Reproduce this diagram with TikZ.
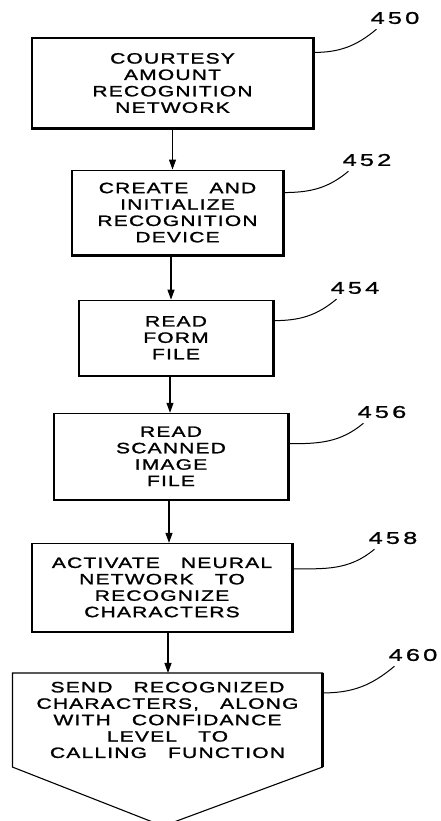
\documentclass[tikz,border=0pt]{standalone}
\usepackage{fontspec}
\usepackage{tikz}
\usetikzlibrary{positioning}
\usetikzlibrary{arrows.meta}

\newfontfamily\stepfont[FakeStretch=1.4,LetterSpace=8,WordSpace=3,FakeBold=1.5]{Liberation Sans}
\newfontfamily\numfont[FakeStretch=1.5,LetterSpace=18,FakeBold=1.2]{Liberation Sans}

\begin{document}
\begin{tikzpicture}[x=1pt, y=-1pt,
        procbox/.style={draw, line width=1.1pt, align=center, inner sep=0pt, font=\stepfont\fontsize{15}{16.4}\selectfont},
        heavyedge/.style={line width=2.4pt},
        flowarrow/.style={line width=1.1pt, -{Triangle[length=10pt, width=7pt]}},
        reflabel/.style={inner sep=0pt, font=\numfont\fontsize{17}{17}\selectfont},
        leader/.style={line width=1pt}]
        \useasboundingbox (0,0) rectangle (440,821);

        \node[procbox, minimum width=281pt, minimum height=90pt] (box450) at (172.5, 83) {COURTESY\\AMOUNT\\RECOGNITION\\NETWORK};
        \node[procbox, minimum width=211pt, minimum height=85pt] (box452) [below = 41pt of box450, xshift=5pt] {CREATE AND\\INITIALIZE\\RECOGNITION\\DEVICE};
        \node[procbox, minimum width=194pt, minimum height=75pt] (box454) [below = 44pt of box452, xshift=-1.5pt] {READ\\FORM\\FILE};
        \node[procbox, minimum width=234pt, minimum height=86pt] (box456) [below = 37pt of box454, xshift=-5pt] {READ\\SCANNED\\IMAGE\\FILE};
        \node[procbox, minimum width=260pt, minimum height=88pt] (box458) [below = 43pt of box456, xshift=-9pt] {ACTIVATE NEURAL\\NETWORK TO\\RECOGNIZE\\CHARACTERS};
        \node[procbox, draw=none, minimum width=309pt, minimum height=93pt] (box460) [below = 41pt of box458, xshift=5.5pt] {SEND RECOGNIZED\\CHARACTERS, ALONG\\WITH CONFIDANCE\\LEVEL TO\\CALLING FUNCTION};

        % pointed bottom of the last step
        \draw[line width=1.1pt] (box460.south west) -- (box460.north west) -- (box460.north east) -- (box460.south east) -- ([xshift=-4.5pt, yshift=-59pt]box460.south) -- cycle;

        % heavier right and bottom edges
        \draw[heavyedge] (box450.north east) -- (box450.south east) -- (box450.south west);
        \draw[heavyedge] (box452.north east) -- (box452.south east) -- (box452.south west);
        \draw[heavyedge] (box454.north east) -- (box454.south east) -- (box454.south west);
        \draw[heavyedge] (box456.north east) -- (box456.south east) -- (box456.south west);
        \draw[heavyedge] (box458.north east) -- (box458.south east) -- (box458.south west);
        \draw[heavyedge] (box460.north east) -- (box460.south east);

        \node[reflabel] (lbl450) at (395, 18) {450};
        \node[reflabel] (lbl452) at (367, 160) {452};
        \node[reflabel] (lbl454) at (355, 288) {454};
        \node[reflabel] (lbl456) at (382, 412) {456};
        \node[reflabel] (lbl458) at (393, 538) {458};
        \node[reflabel] (lbl460) at (413, 655) {460};

        \draw[flowarrow] (box450.south) -- (box450.south |- box452.north);
        \draw[flowarrow] ([xshift=-6.5pt]box452.south) -- ([xshift=-6.5pt]box452.south |- box454.north);
        \draw[flowarrow] ([xshift=-6pt]box454.south) -- ([xshift=-6pt]box454.south |- box456.north);
        \draw[flowarrow] ([xshift=-2pt]box456.south) -- ([xshift=-2pt]box456.south |- box458.north);
        \draw[flowarrow] ([xshift=6pt]box458.south) -- ([xshift=6pt]box458.south |- box460.north);

        \draw[leader] ([yshift=-15pt]box450.north east) to[out=0, in=-140] ([shift={(6pt,-5pt)}]lbl450.south west);
        \draw[leader] ([yshift=-23pt]box452.north east) to[out=0, in=-140] ([shift={(6pt,-5pt)}]lbl452.south west);
        \draw[leader] ([yshift=-21pt]box454.north east) to[out=0, in=-140] ([shift={(6pt,-5pt)}]lbl454.south west);
        \draw[leader] ([yshift=-31pt]box456.north east) to[out=0, in=-140] ([shift={(6pt,-5pt)}]lbl456.south west);
        \draw[leader] ([yshift=-26pt]box458.north east) to[out=0, in=-140] ([shift={(6pt,-5pt)}]lbl458.south west);
        \draw[leader] ([yshift=-20pt]box460.north east) to[out=0, in=-140] ([shift={(6pt,-5pt)}]lbl460.south west);
      \end{tikzpicture}
\end{document}
